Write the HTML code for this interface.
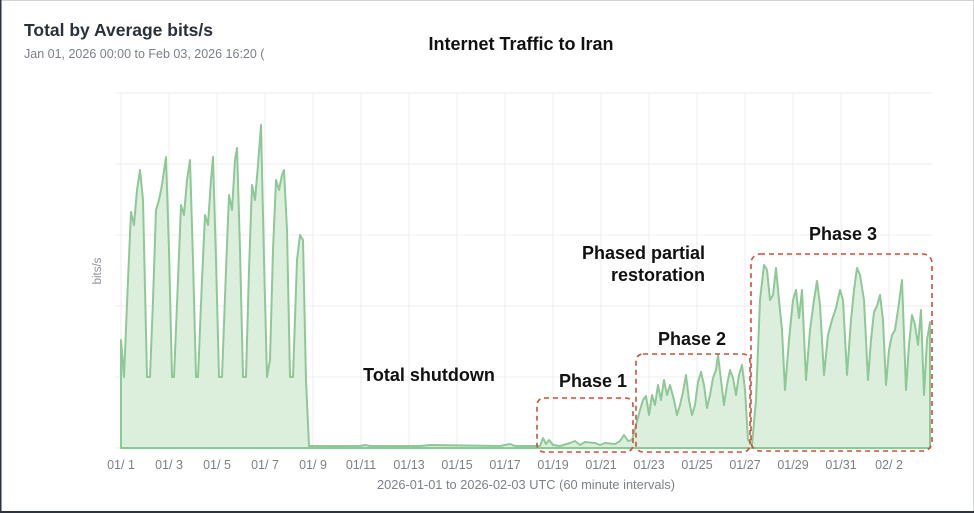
<!DOCTYPE html>
<html><head><meta charset="utf-8"><style>
html,body{margin:0;padding:0;background:#fff;}
body{width:974px;height:513px;overflow:hidden;position:relative;font-family:"Liberation Sans",sans-serif;}
</style></head><body>
<svg width="974" height="513" viewBox="0 0 974 513" xmlns="http://www.w3.org/2000/svg" style="position:absolute;left:0;top:0">
<rect x="0" y="0" width="974" height="513" fill="#fff"/>
<rect x="0.5" y="0.5" width="973" height="511" fill="none" stroke="#cfd3d8"/>
<line x1="0" y1="0" x2="0" y2="513" stroke="#2b3440" stroke-width="3"/>
<line x1="0" y1="512" x2="974" y2="512" stroke="#2b3440" stroke-width="2"/>
<text x="24" y="36" font-size="17.5" font-weight="bold" fill="#2a313b">Total by Average bits/s</text>
<text x="24" y="58" font-size="12.5" fill="#7b8189">Jan 01, 2026 00:00 to Feb 03, 2026 16:20 (</text>
<text x="521" y="50" font-size="18" font-weight="bold" fill="#111" text-anchor="middle">Internet Traffic to Iran</text>
<g stroke="#ececec" stroke-width="1">
<line x1="115" y1="93" x2="932" y2="93"/><line x1="115" y1="164" x2="932" y2="164"/>
<line x1="115" y1="235" x2="932" y2="235"/><line x1="115" y1="306" x2="932" y2="306"/>
<line x1="115" y1="377" x2="932" y2="377"/><line x1="115" y1="448" x2="932" y2="448"/>
<line x1="121" y1="93" x2="121" y2="448"/><line x1="169" y1="93" x2="169" y2="448"/>
<line x1="217" y1="93" x2="217" y2="448"/><line x1="265" y1="93" x2="265" y2="448"/>
<line x1="313" y1="93" x2="313" y2="448"/><line x1="361" y1="93" x2="361" y2="448"/>
<line x1="409" y1="93" x2="409" y2="448"/><line x1="457" y1="93" x2="457" y2="448"/>
<line x1="505" y1="93" x2="505" y2="448"/><line x1="553" y1="93" x2="553" y2="448"/>
<line x1="601" y1="93" x2="601" y2="448"/><line x1="649" y1="93" x2="649" y2="448"/>
<line x1="697" y1="93" x2="697" y2="448"/><line x1="745" y1="93" x2="745" y2="448"/>
<line x1="793" y1="93" x2="793" y2="448"/><line x1="841" y1="93" x2="841" y2="448"/>
<line x1="889" y1="93" x2="889" y2="448"/>
</g>
<path fill="#dcefdd" stroke="#8ec897" stroke-width="2" stroke-linejoin="round" d="M121,448 L121,340 L124,377 L128,280 L131,212 L134,225 L137,190 L140,170 L143,200 L147,377 L150,377 L153,300 L156,210 L159,200 L162,185 L166,157 L169,250 L172,377 L174,377 L178,280 L181,205 L184,215 L187,180 L190,160 L193,260 L196,377 L198,377 L202,280 L205,215 L208,225 L211,180 L213,157 L216,260 L219,377 L222,377 L226,270 L229,195 L232,210 L235,160 L237,148 L240,250 L243,377 L246,377 L249,270 L252,185 L255,200 L258,165 L261,125 L264,260 L267,377 L270,360 L273,250 L276,180 L279,190 L282,175 L284,170 L287,230 L290,377 L293,377 L297,260 L300,235 L303,240 L306,380 L309,446 L360,446 L365,445 L370,446 L420,446 L430,445 L500,446 L510,444 L515,446 L540,446 L543,438 L546,444 L549,440 L553,445 L560,446 L570,443 L575,441 L580,445 L585,442 L595,443 L600,445 L605,443 L615,444 L620,441 L624,435 L628,441 L632,440 L636,425 L640,410 L643,400 L646,396 L649,415 L652,395 L655,405 L658,385 L661,400 L664,380 L667,395 L670,385 L674,400 L677,415 L680,405 L683,392 L686,375 L689,400 L692,415 L695,405 L698,382 L701,372 L704,385 L707,408 L710,395 L713,378 L716,370 L718,355 L721,380 L724,405 L727,385 L730,370 L733,378 L736,395 L739,375 L742,365 L745,390 L748,440 L752,445 L756,400 L760,300 L764,265 L767,270 L770,300 L773,295 L776,268 L779,300 L782,330 L785,390 L789,340 L793,300 L796,290 L799,318 L802,290 L806,380 L810,330 L814,300 L817,281 L820,305 L824,375 L828,335 L832,320 L836,308 L840,290 L843,300 L847,375 L851,320 L854,290 L857,268 L860,275 L864,300 L868,380 L871,340 L874,312 L877,306 L880,295 L883,320 L886,385 L889,350 L892,335 L895,330 L898,310 L902,280 L906,390 L909,345 L912,315 L915,325 L918,345 L921,310 L924,395 L927,340 L930,322 L930,448 Z"/>
<g fill="none" stroke="#c8503d" stroke-width="1.6" stroke-dasharray="5,4">
<rect x="537" y="398" width="96" height="54" rx="7"/>
<rect x="636" y="354" width="114" height="98" rx="7"/>
<rect x="751" y="254" width="181" height="197" rx="9"/>
</g>
<g font-size="18" font-weight="bold" fill="#111">
<text x="429" y="381" text-anchor="middle">Total shutdown</text>
<text x="593" y="387" text-anchor="middle">Phase 1</text>
<text x="692" y="345" text-anchor="middle">Phase 2</text>
<text x="843" y="240" text-anchor="middle">Phase 3</text>
<text x="705" y="259" text-anchor="end">Phased partial</text>
<text x="705" y="281" text-anchor="end">restoration</text>
</g>
<text transform="translate(101,271) rotate(-90)" font-size="11.5" fill="#8a9098" text-anchor="middle">bits/s</text>
<g font-size="12.5" fill="#7b8189" text-anchor="middle">
<text x="121" y="469">01/ 1</text><text x="169" y="469">01/ 3</text><text x="217" y="469">01/ 5</text>
<text x="265" y="469">01/ 7</text><text x="313" y="469">01/ 9</text><text x="361" y="469">01/11</text>
<text x="409" y="469">01/13</text><text x="457" y="469">01/15</text><text x="505" y="469">01/17</text>
<text x="553" y="469">01/19</text><text x="601" y="469">01/21</text><text x="649" y="469">01/23</text>
<text x="697" y="469">01/25</text><text x="745" y="469">01/27</text><text x="793" y="469">01/29</text>
<text x="841" y="469">01/31</text><text x="889" y="469">02/ 2</text>
</g>
<text x="526" y="489" font-size="12.8" fill="#7b8189" text-anchor="middle">2026-01-01 to 2026-02-03 UTC (60 minute intervals)</text>
</svg>
</body></html>
